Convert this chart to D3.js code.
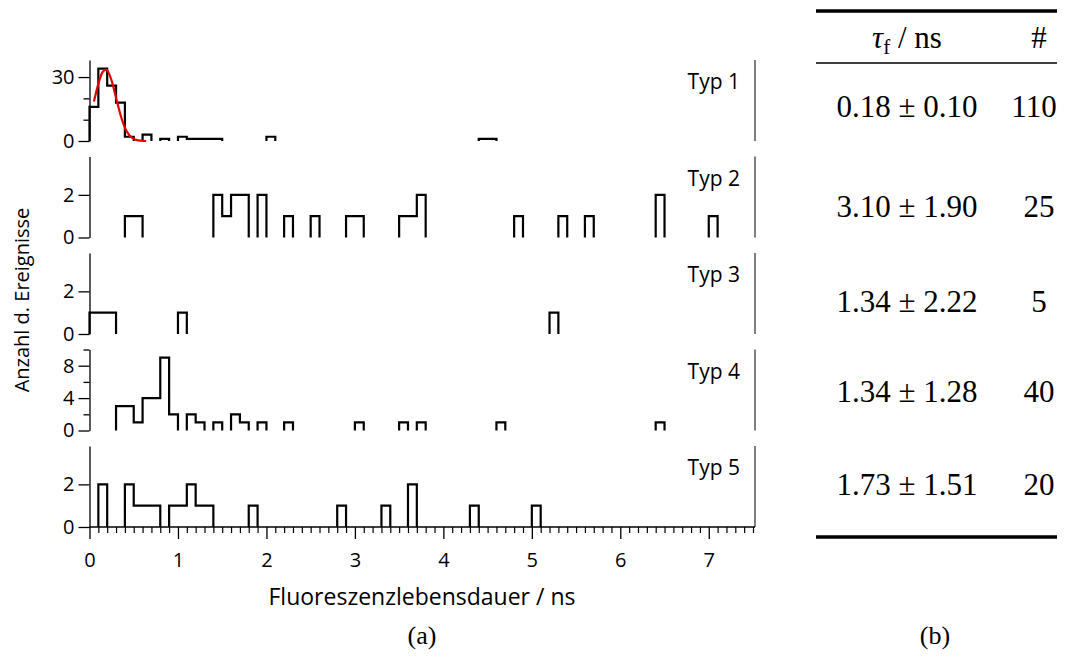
<!DOCTYPE html>
<html>
<head>
<meta charset="utf-8">
<script src="https://cdn.jsdelivr.net/npm/d3@7"></script>
<style>
    body { margin: 0; background: #fff; }
    svg text { fill: #000; }
</style>
</head>
<body>
<div id="chart"></div>
<script>
// Histogram bins (start of 0.1 ns bin) and counts per type
const typ1Bins = [0.0, 0.1, 0.2, 0.3, 0.4, 0.6, 0.8, 1.0, 1.1, 1.2, 1.3, 1.4, 2.0, 4.4, 4.5];
const typ1Counts = [16, 34, 26, 18, 2, 3, 1, 2, 1, 1, 1, 1, 2, 1, 1];

const typ2Bins = [0.4, 0.5, 1.4, 1.5, 1.6, 1.7, 1.9, 2.2, 2.5, 2.9, 3.0, 3.5, 3.6, 3.7, 4.8, 5.3, 5.6, 6.4, 7.0];
const typ2Counts = [1, 1, 2, 1, 2, 2, 2, 1, 1, 1, 1, 1, 1, 2, 1, 1, 1, 2, 1];

const typ3Bins = [0.0, 0.1, 0.2, 1.0, 5.2];
const typ3Counts = [1, 1, 1, 1, 1];

const typ4Bins = [0.3, 0.4, 0.5, 0.6, 0.7, 0.8, 0.9, 1.1, 1.2, 1.4, 1.6, 1.7, 1.9, 2.2, 3.0, 3.5, 3.7, 4.6, 6.4];
const typ4Counts = [3, 3, 1, 4, 4, 9, 2, 2, 1, 1, 2, 1, 1, 1, 1, 1, 1, 1, 1];

const typ5Bins = [0.1, 0.4, 0.5, 0.6, 0.7, 0.9, 1.0, 1.1, 1.2, 1.3, 1.8, 2.8, 3.3, 3.6, 4.3, 5.0];
const typ5Counts = [2, 2, 1, 1, 1, 1, 1, 2, 1, 1, 1, 1, 1, 2, 1, 1];

// Gaussian fit of Typ 1
const fitX = [0.05, 0.1, 0.15, 0.19, 0.25, 0.3, 0.35, 0.4, 0.45, 0.5, 0.55, 0.6, 0.64];
const fitY = [18.5, 26.8, 32.5, 33.5, 28.3, 20.3, 12.3, 6.2, 2.7, 1.0, 0.3, 0.1, 0];

const panelNames = ['Typ 1', 'Typ 2', 'Typ 3', 'Typ 4', 'Typ 5'];
const panelYMax = [38, 3.8, 3.8, 10, 3.8];
const panelMajorTicks = [[0, 30], [0, 2], [0, 2], [0, 4, 8], [0, 2]];
const panelMinorTicks = [[10, 20], [], [], [2, 6, 10], []];

const xTicks = [0, 1, 2, 3, 4, 5, 6, 7];
const xDomain = [0, 7.5];
const binWidth = 0.1;

// Table (b)
const tauValues = ['0.18 ± 0.10', '3.10 ± 1.90', '1.34 ± 2.22', '1.34 ± 1.28', '1.73 ± 1.51'];
const eventCounts = ['110', '25', '5', '40', '20'];

const bins = [typ1Bins, typ2Bins, typ3Bins, typ4Bins, typ5Bins];
const counts = [typ1Counts, typ2Counts, typ3Counts, typ4Counts, typ5Counts];

let width = 1069,
    height = 657,
    plot = {left: 89.5, right: 755, top: 60},
    panel = {height: 81, step: 96.5};

const sans = '"Open Sans", Lato, sans-serif';
const serif = '"Liberation Serif", "Times New Roman", serif';

let svg = d3.select('#chart')
    .append('svg')
    .attr('width', width)
    .attr('height', height);

let x = d3.scaleLinear().domain(xDomain).range([plot.left, 753]);

for (let i = 0; i < panelNames.length; ++i) {
    drawPanel(i);
}
drawXAxis();
drawLabels();
drawTable();

function panelTop(i) {
    return plot.top + i * panel.step;
}

// Split sparse bins into contiguous runs so empty bins leave no line
function runs(b, c) {
    let out = [];
    let cur = null;
    for (let k = 0; k < b.length; ++k) {
        if (cur && Math.abs(b[k] - cur.end) < 1e-6) {
            cur.pts.push([b[k], c[k]]);
            cur.end = b[k] + binWidth;
        } else {
            cur = {pts: [[b[k], 0], [b[k], c[k]]], end: b[k] + binWidth};
            out.push(cur);
        }
    }
    return out.map(r => r.pts.concat([[r.end, 0]]));
}

function drawPanel(i) {
    let top = panelTop(i);
    let bottom = top + panel.height;
    let y = d3.scaleLinear().domain([0, panelYMax[i]]).range([bottom, top]);

    let g = svg.append('g');

    // left axis with long major ticks and short minor ticks
    g.append('g')
        .attr('transform', 'translate(' + plot.left + ',0)')
        .call(d3.axisLeft(y).tickValues(panelMinorTicks[i]).tickSize(6).tickFormat(''))
        .call(a => a.select('.domain').remove())
        .call(a => a.selectAll('line').attr('stroke-width', 1.3));

    g.append('g')
        .attr('transform', 'translate(' + plot.left + ',0)')
        .call(d3.axisLeft(y).tickValues(panelMajorTicks[i]).tickFormat(d3.format('d'))
            .tickSize(11).tickPadding(4).tickSizeOuter(0))
        .call(a => a.select('.domain').attr('stroke-width', 1.3))
        .call(a => a.selectAll('line').attr('stroke-width', 1.3))
        .call(a => a.selectAll('text').style('font-family', sans).style('font-size', '20px'));

    // right frame line
    g.append('line')
        .attr('x1', plot.right).attr('x2', plot.right)
        .attr('y1', top).attr('y2', bottom)
        .attr('stroke', '#555')
        .attr('stroke-width', 1.5);

    let line = d3.line()
        .x(d => x(d[0]))
        .y(d => y(d[1]))
        .curve(d3.curveStepAfter);

    g.selectAll('path.hist')
        .data(runs(bins[i], counts[i]))
        .enter()
        .append('path')
        .attr('class', 'hist')
        .attr('d', line)
        .attr('fill', 'none')
        .attr('stroke', '#000')
        .attr('stroke-width', 2.2);

    if (i === 0) {
        let fit = d3.line()
            .x(d => x(d[0]))
            .y(d => y(d[1]))
            .curve(d3.curveMonotoneX);
        g.append('path')
            .attr('d', fit(fitX.map((v, k) => [v, fitY[k]])))
            .attr('fill', 'none')
            .attr('stroke', '#e60000')
            .attr('stroke-width', 2.2);
    }

    g.append('text')
        .attr('x', 740)
        .attr('y', top + 29)
        .attr('text-anchor', 'end')
        .style('font-family', sans)
        .style('font-size', '21px')
        .text(panelNames[i]);
}

function drawXAxis() {
    let base = panelTop(4) + panel.height;
    let minor = d3.range(0, 76).map(k => k / 10).filter(v => Math.abs(v - Math.round(v)) > 1e-6);

    svg.append('g')
        .attr('transform', 'translate(0,' + base + ')')
        .call(d3.axisBottom(x).tickValues(minor).tickSize(6).tickFormat('').tickSizeOuter(0))
        .call(a => a.select('.domain').remove())
        .call(a => a.selectAll('line').attr('stroke-width', 1.2));

    svg.append('g')
        .attr('transform', 'translate(0,' + base + ')')
        .call(d3.axisBottom(x).tickValues(xTicks).tickFormat(d3.format('d'))
            .tickSize(12).tickPadding(14).tickSizeOuter(0))
        .call(a => a.select('.domain').attr('stroke-width', 1.5).attr('d', 'M' + plot.left + ',0H' + plot.right))
        .call(a => a.selectAll('line').attr('stroke-width', 1.3))
        .call(a => a.selectAll('text').style('font-family', sans).style('font-size', '20px'));
}

function drawLabels() {
    svg.append('text')
        .attr('transform', 'translate(29,300) rotate(-90)')
        .attr('text-anchor', 'middle')
        .style('font-family', sans)
        .style('font-size', '20px')
        .text('Anzahl d. Ereignisse');

    svg.append('text')
        .attr('x', 422)
        .attr('y', 605)
        .attr('text-anchor', 'middle')
        .style('font-family', sans)
        .style('font-size', '23px')
        .text('Fluoreszenzlebensdauer / ns');

    svg.append('text')
        .attr('x', 422).attr('y', 644)
        .attr('text-anchor', 'middle')
        .style('font-family', serif).style('font-size', '26px')
        .text('(a)');

    svg.append('text')
        .attr('x', 935).attr('y', 644)
        .attr('text-anchor', 'middle')
        .style('font-family', serif).style('font-size', '26px')
        .text('(b)');
}

function drawTable() {
    let t = svg.append('g');
    let left = 816, right = 1057;
    let col1 = 907, col2 = 1034;
    let rowY = [117, 217, 312, 402, 495];

    t.append('line').attr('x1', left).attr('x2', right).attr('y1', 11).attr('y2', 11)
        .attr('stroke', '#000').attr('stroke-width', 3.5);
    t.append('line').attr('x1', left).attr('x2', right).attr('y1', 63).attr('y2', 63)
        .attr('stroke', '#000').attr('stroke-width', 1.5);
    t.append('line').attr('x1', left).attr('x2', right).attr('y1', 537).attr('y2', 537)
        .attr('stroke', '#000').attr('stroke-width', 3.5);

    let head = t.append('text')
        .attr('x', col1).attr('y', 48)
        .attr('text-anchor', 'middle')
        .style('font-family', serif).style('font-size', '31px');
    head.append('tspan').style('font-style', 'italic').text('τ');
    head.append('tspan').attr('dy', 6).style('font-size', '21px').text('f');
    head.append('tspan').attr('dy', -6).text(' / ns');

    t.append('text')
        .attr('x', col2 + 5).attr('y', 48)
        .attr('text-anchor', 'middle')
        .style('font-family', serif).style('font-size', '31px')
        .text('#');

    t.selectAll('text.tau')
        .data(tauValues)
        .enter()
        .append('text')
        .attr('class', 'tau')
        .attr('x', col1)
        .attr('y', (d, i) => rowY[i])
        .attr('text-anchor', 'middle')
        .style('font-family', serif).style('font-size', '31px')
        .text(d => d);

    t.selectAll('text.num')
        .data(eventCounts)
        .enter()
        .append('text')
        .attr('class', 'num')
        .attr('x', (d, i) => i === 0 ? col2 : col2 + 5)
        .attr('y', (d, i) => rowY[i])
        .attr('text-anchor', 'middle')
        .style('font-family', serif).style('font-size', '31px')
        .text(d => d);
}
</script>
</body>
</html>
